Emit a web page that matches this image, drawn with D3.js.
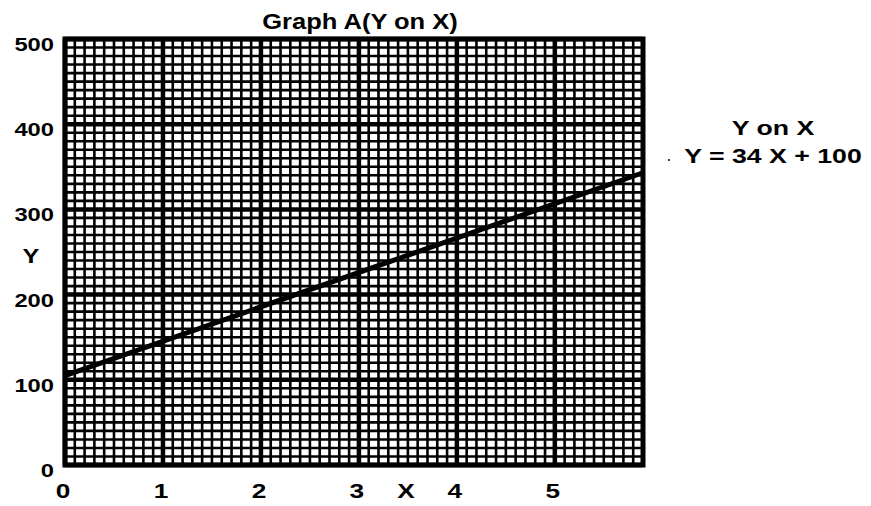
<!DOCTYPE html>
<html>
<head>
<meta charset="utf-8">
<script src="https://cdn.jsdelivr.net/npm/d3@7"></script>
<style>
  body { margin: 0; background: #fff; }
  text { font-family: "Liberation Sans", Arial, sans-serif; font-weight: bold; fill: #000; }
</style>
</head>
<body>
<svg id="chart" width="871" height="506"></svg>
<script>
// values
var xTicks = [0, 1, 2, 3, 4, 5];
var yTicks = [0, 100, 200, 300, 400, 500];
var lineX = [0, 5.9];
var lineY = [105, 343];
var title = "Graph A(Y on X)";
var legendLines = ["Y on X", "Y = 34 X + 100"];

var svg = d3.select("#chart");

var x = d3.scaleLinear().domain([0, 5.9]).range([65, 643]);
var y = d3.scaleLinear().domain([0, 500]).range([465, 39]);

// the scanned text is a bit stretched sideways
function label(px, py, str, size, sx, anchor) {
  return svg.append("text")
    .attr("transform", "translate(" + px + "," + py + ") scale(" + sx + ",1)")
    .attr("text-anchor", anchor || "middle")
    .style("font-size", size + "px")
    .text(str);
}

// graph paper
var grid = svg.append("g");
var minorX = d3.range(0, 59).map(function (d) { return d / 10; });
var minorY = d3.range(0, 51).map(function (d) { return d * 10; });

grid.selectAll(".vminor").data(minorX).enter().append("line")
    .attr("x1", function (d) { return x(d); })
    .attr("x2", function (d) { return x(d); })
    .attr("y1", y(500)).attr("y2", y(0))
    .attr("stroke", "#000")
    .attr("stroke-width", function (d) { return Math.abs(d - Math.round(d)) < 1e-6 ? 4.5 : 2.6; });

grid.selectAll(".hminor").data(minorY).enter().append("line")
    .attr("y1", function (d) { return y(d); })
    .attr("y2", function (d) { return y(d); })
    .attr("x1", x(0)).attr("x2", x(5.9))
    .attr("stroke", "#000")
    .attr("stroke-width", function (d) { return d % 100 === 0 ? 4.5 : 2.6; });

grid.append("rect")
    .attr("x", x(0)).attr("y", y(500))
    .attr("width", x(5.9) - x(0)).attr("height", y(0) - y(500))
    .attr("fill", "none").attr("stroke", "#000").attr("stroke-width", 5);

// regression line
var pts = lineX.map(function (d, i) { return [d, lineY[i]]; });
svg.append("path")
    .datum(pts)
    .attr("d", d3.line().x(function (d) { return x(d[0]); }).y(function (d) { return y(d[1]); }))
    .attr("stroke", "#000")
    .attr("stroke-width", 5)
    .attr("fill", "none");

// axis labels
xTicks.forEach(function (d) {
  label(x(d) - 2, 498, d, 21, 1.25);
});
label(406, 498, "X", 21, 1.25);

yTicks.forEach(function (d) {
  label(54, y(d) + 12, d, 19, 1.25, "end");
});
label(31, 263, "Y", 21, 1.2);

// title
label(360, 29, title, 22, 1.16);

// equation text
legendLines.forEach(function (d, i) {
  label(773, 135 + i * 28, d, 21, 1.27);
});

svg.append("circle")
    .attr("cx", 669).attr("cy", 160).attr("r", 1)
    .attr("fill", "#000");
</script>
</body>
</html>
